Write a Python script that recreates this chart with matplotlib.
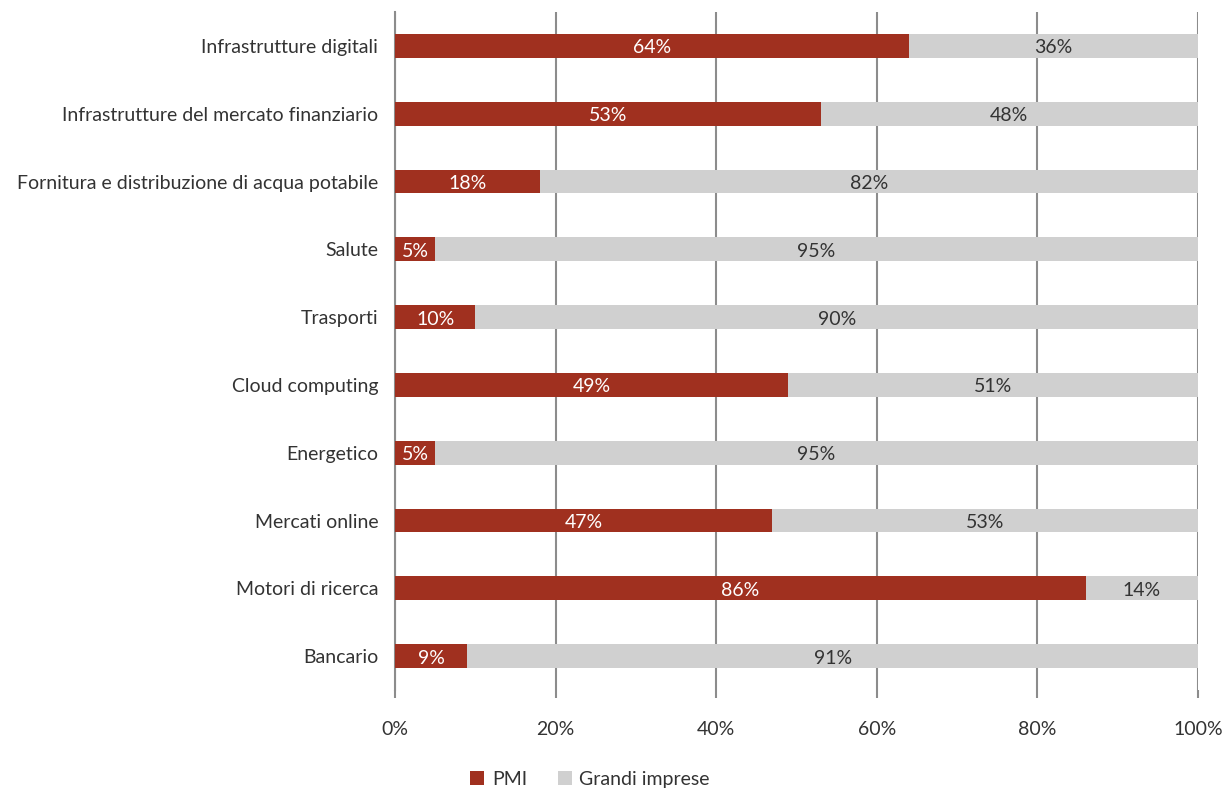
import matplotlib.pyplot as plt
from matplotlib.ticker import PercentFormatter
import numpy as np

plt.rcParams['font.family'] = ['Lato', 'DejaVu Sans']

# Data (top to bottom as shown)
categories = [
    'Infrastrutture digitali',
    'Infrastrutture del mercato finanziario',
    'Fornitura e distribuzione di acqua potabile',
    'Salute',
    'Trasporti',
    'Cloud computing',
    'Energetico',
    'Mercati online',
    'Motori di ricerca',
    'Bancario',
]
pmi = [64, 53, 18, 5, 10, 49, 5, 47, 86, 9]
grandi = [36, 48, 82, 95, 90, 51, 95, 53, 14, 91]

color_pmi = '#A0301F'
color_grandi = '#D0D0D0'
color_text = '#333333'
color_grid = '#8C8C8C'

pmi = np.array(pmi, dtype=float)
grandi = np.array(grandi, dtype=float)

fig = plt.figure(figsize=(12.22, 7.89), dpi=100)
ax = fig.add_axes([395 / 1222, 1 - 690 / 789, (1198 - 395) / 1222, (690 - 12) / 789])

y = np.arange(len(categories))
h = 0.35
b1 = ax.barh(y, pmi, height=h, color=color_pmi, label='PMI', zorder=3)
b2 = ax.barh(y, grandi, left=pmi, height=h, color=color_grandi,
             label='Grandi imprese', zorder=3)

# value labels, centred in the visible part of each segment
for i in range(len(categories)):
    right = min(pmi[i] + grandi[i], 100)
    ax.text(pmi[i] / 2, y[i] + 0.03, f'{int(pmi[i])}%', ha='center', va='center',
            color='white', fontsize=14, zorder=4)
    ax.text((pmi[i] + right) / 2, y[i] + 0.03, f'{int(grandi[i])}%',
            ha='center', va='center', color=color_text, fontsize=14, zorder=4)

ax.set_xlim(0, 100)
ax.set_ylim(len(categories) - 0.5, -0.5)
ax.set_yticks(y)
ax.set_yticklabels(categories, fontsize=14, color=color_text)
ax.set_xticks(np.arange(0, 101, 20))
ax.xaxis.set_major_formatter(PercentFormatter(decimals=0))
ax.tick_params(axis='x', colors=color_grid, labelcolor=color_text, labelsize=14,
               length=6, width=1.5, pad=16)
ax.tick_params(axis='y', length=0, pad=12)

ax.grid(axis='x', color=color_grid, linewidth=1.5, zorder=0)
for s in ['top', 'right', 'bottom']:
    ax.spines[s].set_visible(False)
ax.spines['left'].set_color(color_grid)
ax.spines['left'].set_linewidth(1.5)

fig.legend(handles=[b1, b2], loc='center', bbox_to_anchor=(0.483, 0.012), ncol=2,
           frameon=False, fontsize=14, handlelength=0.7, handleheight=0.7,
           handletextpad=0.4, columnspacing=1.6, labelcolor=color_text)

fig.savefig('out.png', dpi=100, facecolor='white')
